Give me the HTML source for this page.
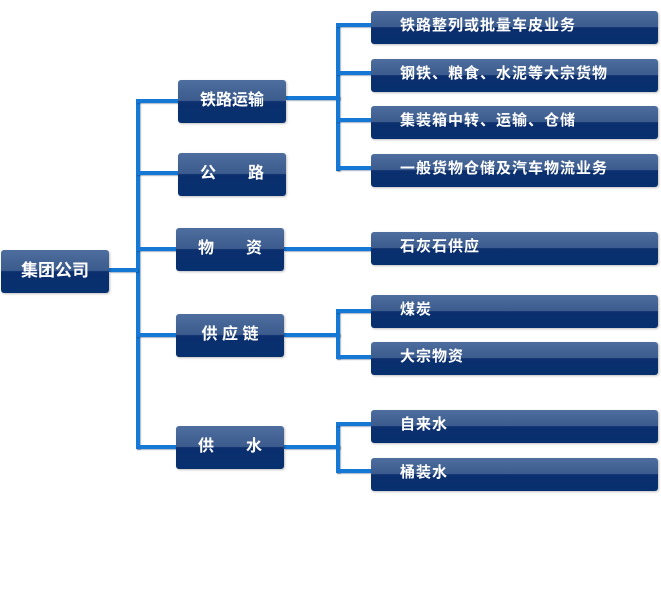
<!DOCTYPE html>
<html><head><meta charset="utf-8"><style>
body{margin:0;width:661px;height:600px;background:#fff;position:relative;overflow:hidden;font-family:"Liberation Sans","Noto Sans CJK SC",sans-serif}
.b{position:absolute;border-radius:3px;background:linear-gradient(#4d6e9e 0%,#3c5b8e 48%,#0c2f6e 50%,#06306f 100%);color:#fff;font-weight:bold;box-shadow:1px 1px 2px rgba(0,0,0,.25)}
.l{position:absolute;font-size:16px;text-align:center;white-space:pre}
.r{font-size:15px;letter-spacing:1px;padding-left:29px;line-height:30px}
.h,.v{position:absolute;background:#1478d4;box-shadow:1px 1px 1px rgba(0,40,90,.35)}
.h{height:4px}.v{width:4px}
</style></head><body>
<div class="v" style="left:136px;top:99px;height:350px"></div>
<div class="h" style="left:109px;top:268px;width:29px"></div>
<div class="h" style="left:136px;top:99px;width:42px"></div>
<div class="h" style="left:136px;top:171px;width:42px"></div>
<div class="h" style="left:136px;top:247px;width:40px"></div>
<div class="h" style="left:136px;top:333px;width:40px"></div>
<div class="h" style="left:136px;top:445px;width:40px"></div>

<div class="h" style="left:286px;top:96px;width:54px"></div>
<div class="v" style="left:336px;top:23px;height:148px"></div>
<div class="h" style="left:336px;top:23px;width:35px"></div>
<div class="h" style="left:336px;top:71px;width:35px"></div>
<div class="h" style="left:336px;top:118px;width:35px"></div>
<div class="h" style="left:336px;top:166px;width:35px"></div>

<div class="h" style="left:284px;top:247px;width:87px"></div>

<div class="h" style="left:284px;top:333px;width:56px"></div>
<div class="v" style="left:336px;top:309px;height:50px"></div>
<div class="h" style="left:336px;top:309px;width:35px"></div>
<div class="h" style="left:336px;top:355px;width:35px"></div>

<div class="h" style="left:284px;top:445px;width:56px"></div>
<div class="v" style="left:336px;top:422px;height:51px"></div>
<div class="h" style="left:336px;top:422px;width:35px"></div>
<div class="h" style="left:336px;top:469px;width:35px"></div>

<div class="b l" style="left:1px;top:250px;width:108px;height:43px;line-height:41px;font-size:17px">集团公司</div>
<div class="b l" style="left:178px;top:80px;width:108px;height:43px;line-height:41px">铁路运输</div>
<div class="b l" style="left:178px;top:153px;width:108px;height:43px;line-height:41px">公　　路</div>
<div class="b l" style="left:176px;top:228px;width:108px;height:43px;line-height:41px">物　　资</div>
<div class="b l" style="left:176px;top:314px;width:108px;height:43px;line-height:41px">供 应 链</div>
<div class="b l" style="left:176px;top:426px;width:108px;height:43px;line-height:41px">供　　水</div>

<div class="b r" style="left:371px;top:11px;width:258px;height:33px">铁路整列或批量车皮业务</div>
<div class="b r" style="left:371px;top:59px;width:258px;height:33px">钢铁、粮食、水泥等大宗货物</div>
<div class="b r" style="left:371px;top:106px;width:258px;height:33px">集装箱中转、运输、仓储</div>
<div class="b r" style="left:371px;top:154px;width:258px;height:33px">一般货物仓储及汽车物流业务</div>
<div class="b r" style="left:371px;top:232px;width:258px;height:33px">石灰石供应</div>
<div class="b r" style="left:371px;top:295px;width:258px;height:33px">煤炭</div>
<div class="b r" style="left:371px;top:342px;width:258px;height:33px">大宗物资</div>
<div class="b r" style="left:371px;top:410px;width:258px;height:33px">自来水</div>
<div class="b r" style="left:371px;top:458px;width:258px;height:33px">桶装水</div>
</body></html>
